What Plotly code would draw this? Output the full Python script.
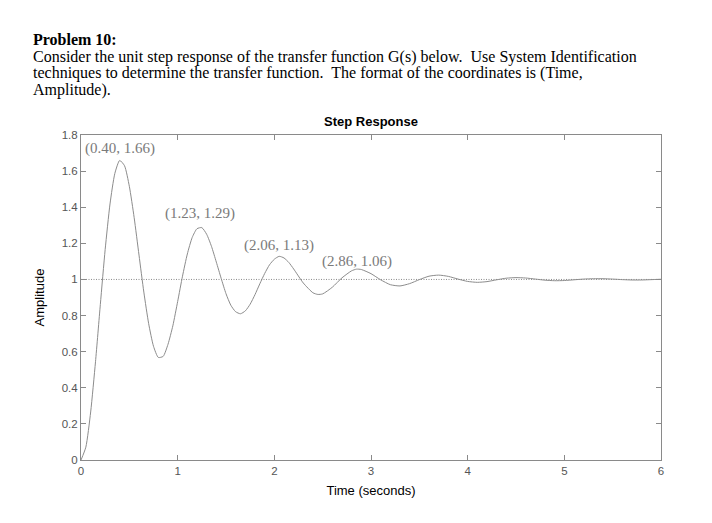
import plotly.graph_objects as go

# step response (time in s, amplitude)
time_s = [0, 0.05, 0.10, 0.15, 0.20, 0.25, 0.30, 0.35, 0.40, 0.45, 0.50, 0.55, 0.60,
          0.65, 0.70, 0.75, 0.80, 0.85, 0.90, 0.95, 1.00, 1.05, 1.10, 1.15, 1.20, 1.25,
          1.30, 1.35, 1.40, 1.45, 1.50, 1.55, 1.60, 1.65, 1.70, 1.75, 1.80, 1.85, 1.90,
          1.95, 2.00, 2.05, 2.10, 2.15, 2.20, 2.30, 2.40, 2.45, 2.50, 2.60, 2.70, 2.80,
          2.85, 2.90, 3.00, 3.10, 3.20, 3.30, 3.40, 3.50, 3.60, 3.70, 3.80, 3.90, 4.00,
          4.10, 4.20, 4.30, 4.40, 4.50, 4.60, 4.70, 4.80, 4.90, 5.00, 5.10, 5.20, 5.30,
          5.40, 5.50, 5.60, 5.70, 5.80, 5.90, 6.00]
amplitude = [0, 0.071, 0.266, 0.544, 0.861, 1.166, 1.418, 1.587, 1.659, 1.630, 1.516, 1.342, 1.135,
             0.930, 0.755, 0.630, 0.568, 0.574, 0.641, 0.743, 0.878, 1.018, 1.141, 1.232, 1.281, 1.287,
             1.250, 1.183, 1.096, 1.006, 0.921, 0.857, 0.821, 0.810, 0.826, 0.863, 0.916, 0.976, 1.033,
             1.081, 1.112, 1.128, 1.119, 1.094, 1.058, 0.980, 0.926, 0.917, 0.920, 0.957, 1.009, 1.048,
             1.057, 1.055, 1.032, 0.998, 0.971, 0.964, 0.977, 0.999, 1.018, 1.024, 1.017, 1.002, 0.989,
             0.984, 0.988, 0.998, 1.007, 1.010, 1.008, 1.002, 0.996, 0.993, 0.994, 0.998, 1.002, 1.004,
             1.004, 1.002, 0.999, 0.997, 0.997, 0.999, 1.001]
final_value = 1.0

# labelled peaks
peak_t = [0.40, 1.23, 2.06, 2.86]
peak_y = [1.66, 1.29, 1.13, 1.06]
# where each label sits (time, amplitude of its centre)
label_pos = [(0.02, 1.728), (0.85, 1.368), (1.67, 1.19), (2.47, 1.10)]

header_lines = [
    "<b>Problem 10:</b>",
    "Consider the unit step response of the transfer function G(s) below.  Use System Identification",
    "techniques to determine the transfer function.  The format of the coordinates is (Time,",
    "Amplitude).",
]
header_y = [39.5, 56.5, 73.5, 90]   # pixel centres in the page

# the page body adds 8px on top/left, so the figure is drawn a bit smaller
off = 8
pl, pr, pt, pb = 81, 661, 135, 460   # plot box in page pixels


def px(x):
    return (x - pl) / (pr - pl)


def py(y):
    return (pb - y) / (pb - pt)


fig = go.Figure()

# steady-state line
fig.add_trace(go.Scatter(x=[0, 6], y=[final_value, final_value], mode='lines',
                         line=dict(color='#8a8a8a', width=1, dash='1px,1.5px'),
                         hoverinfo='skip', showlegend=False))

fig.add_trace(go.Scatter(x=time_s, y=amplitude, mode='lines',
                         line=dict(color='#8c8c8c', width=1, shape='spline', smoothing=0.6),
                         showlegend=False))

annots = []
for (lx, ly), t, a in zip(label_pos, peak_t, peak_y):
    annots.append(dict(x=lx, y=ly, xref='x', yref='y', xanchor='left', yanchor='middle',
                       text=f"({t:.2f}, {a:.2f})", showarrow=False,
                       font=dict(family='Liberation Serif', size=15, color='#7a7a7a')))

# question text above the chart
for txt, y in zip(header_lines, header_y):
    annots.append(dict(x=px(31), y=py(y), xref='paper', yref='paper',
                       xanchor='left', yanchor='middle', text=txt, showarrow=False,
                       font=dict(family='Liberation Serif', size=16, color='black')))

annots.append(dict(x=0.5, y=py(121), xref='paper', yref='paper', xanchor='center',
                   yanchor='middle', text='<b>Step Response</b>', showarrow=False,
                   font=dict(family='Liberation Sans', size=13, color='black')))

axis_style = dict(showline=True, linecolor='#8a8a8a', linewidth=1, mirror='ticks',
                  ticks='inside', ticklen=5, tickcolor='#8a8a8a', showgrid=False, zeroline=False,
                  tickfont=dict(family='Liberation Sans', size=11.5, color='#555555'))

fig.update_layout(
    width=712 - off, height=523 - off,
    margin=dict(l=pl - off, r=712 - pr, t=pt - off, b=523 - pb),
    paper_bgcolor='white', plot_bgcolor='white',
    annotations=annots,
    xaxis=dict(range=[0, 6], dtick=1,
               title=dict(text='Time (seconds)', standoff=10,
                          font=dict(family='Liberation Sans', size=13, color='black')),
               **axis_style),
    yaxis=dict(range=[0, 1.8], dtick=0.2,
               title=dict(text='Amplitude', standoff=14,
                          font=dict(family='Liberation Sans', size=13, color='black')),
               **axis_style),
)

fig.write_html("out.html")
